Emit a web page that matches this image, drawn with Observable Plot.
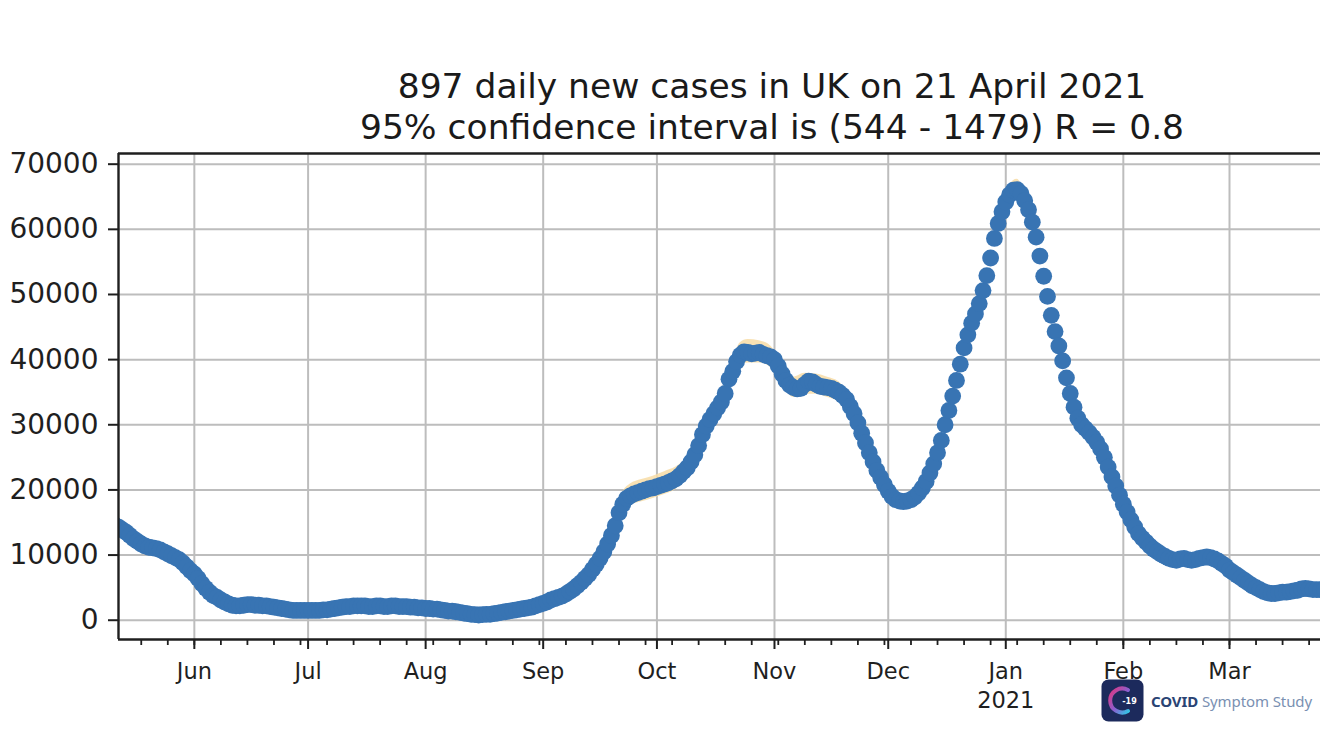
<!DOCTYPE html>
<html>
<head>
<meta charset="utf-8">
<script src="https://cdn.jsdelivr.net/npm/d3@7"></script>
<script src="https://cdn.jsdelivr.net/npm/@observablehq/plot@0.6"></script>
<style>
  html, body { margin: 0; padding: 0; background: #fff; overflow: hidden; }
  #wrap { position: relative; width: 1320px; height: 743px; overflow: hidden; }
  .title { position: absolute; left: 272px; width: 1000px; text-align: center;
           font-family: "DejaVu Sans", sans-serif; font-size: 34.5px; line-height: 41px; color: #1a1a1a; white-space: nowrap; }
  #chart { position: absolute; left: 0; top: 0; }
  #logo { position: absolute; left: 1101px; top: 679px; height: 43px; display: flex; align-items: center; z-index: 5; }
  #logo .txt { margin-left: 7px; font-family: "Noto Sans", "Open Sans", sans-serif; font-size: 15px; letter-spacing: -0.1px; }
  #logo .b { font-weight: 700; color: #2a4474; }
  #logo .l { color: #7a90b2; }
</style>
</head>
<body>
<div id="wrap">
  <div class="title" id="t1" style="top:66px"></div>
  <div class="title" id="t2" style="top:107px"></div>
  <div id="chart"></div>
  <div id="logo">
    <svg width="43" height="43" viewBox="0 0 43 43">
      <defs>
        <linearGradient id="cg" x1="0" y1="0" x2="1" y2="1">
          <stop offset="0" stop-color="#e0357e"/>
          <stop offset="0.55" stop-color="#8a5fd0"/>
          <stop offset="1" stop-color="#35c3e6"/>
        </linearGradient>
      </defs>
      <rect x="0.5" y="0.5" width="42" height="42" rx="7" fill="#1c2a5c"/>
      <path d="M 27 11 A 12 12 0 1 0 27 32" fill="none" stroke="url(#cg)" stroke-width="4" stroke-linecap="round"/>
      <text x="28.5" y="24.5" font-family="DejaVu Sans" font-size="8" font-weight="bold" fill="#ffffff" text-anchor="middle">-19</text>
    </svg>
    <div class="txt"><span class="b">COVID</span> <span class="l">Symptom Study</span></div>
  </div>
</div>
<script>
// ---------------- data ----------------
const titleLine1 = "897 daily new cases in UK on 21 April 2021";
const titleLine2 = "95% confidence interval is (544 - 1479) R = 0.8";

const firstDay = "2020-05-10";           // first daily estimate
const dailyCases = [
  // May 10 - 31, 2020
  14900, 14600, 14300, 13900, 13500, 13000, 12500, 12100, 11700, 11400, 11200,
  11100, 11000, 10800, 10500, 10200, 9900, 9600, 9300, 8800, 8200, 7600,
  // June
  7100, 6400, 5600, 4900, 4300, 3800, 3500, 3100, 2800, 2500,
  2300, 2200, 2200, 2300, 2400, 2400, 2300, 2300, 2200, 2200,
  2100, 2000, 1900, 1800, 1700, 1600, 1500, 1500, 1500, 1500,
  // July
  1500, 1500, 1500, 1500, 1600, 1600, 1700, 1800, 1900, 2000,
  2100, 2100, 2200, 2200, 2200, 2200, 2100, 2100, 2200, 2200,
  2100, 2100, 2200, 2200, 2100, 2100, 2100, 2000, 2000, 1900, 1900,
  // August
  1800, 1800, 1700, 1700, 1600, 1500, 1400, 1400, 1300, 1200,
  1100, 1000, 900, 850, 800, 850, 900, 900, 1000, 1100,
  1200, 1300, 1400, 1500, 1600, 1700, 1800, 1900, 2000, 2200, 2400,
  // September
  2600, 2800, 3100, 3300, 3500, 3700, 4000, 4400, 4800, 5300,
  5800, 6400, 7000, 7800, 8600, 9500, 10500, 11700, 13000, 14500,
  16500, 17800, 18700, 19100, 19400, 19600, 19800, 20000, 20200, 20300,
  // October
  20500, 20700, 20900, 21100, 21400, 21700, 22200, 22800, 23400, 24300,
  25400, 26800, 28500, 29800, 30800, 31700, 32600, 33500, 34800, 37000,
  38200, 39700, 40700, 41200, 41100, 40900, 41000, 41100, 40800, 40600, 40400,
  // November
  40000, 39000, 37800, 36800, 36100, 35700, 35500, 35600, 36200, 36700,
  36600, 36200, 35900, 35800, 35700, 35600, 35300, 35000, 34500, 33900,
  32800, 31700, 30300, 28700, 27200, 25700, 24300, 23000, 21900, 20800,
  // December
  19800, 19000, 18500, 18300, 18200, 18300, 18500, 18900, 19500, 20300,
  21300, 22600, 24000, 25700, 27600, 30000, 32200, 34400, 36800, 39300,
  41800, 43800, 45600, 47000, 48600, 50600, 52900, 55600, 58600, 60900, 62700,
  // January 2021
  64200, 65300, 66000, 66100, 65500, 64400, 63000, 61100, 58800, 55900,
  52800, 49700, 46800, 44300, 42100, 39800, 37200, 34800, 32700, 31000,
  30000, 29400, 28800, 28100, 27300, 26300, 25000, 23500, 22000, 20600, 19200,
  // February
  17800, 16600, 15400, 14300, 13300, 12600, 12000, 11400, 10900, 10500,
  10100, 9800, 9500, 9300, 9200, 9400, 9500, 9300, 9200, 9300,
  9500, 9600, 9700, 9600, 9400, 9100, 8700, 8300,
  // March 1 - 26
  7700, 7300, 6900, 6500, 6100, 5700, 5300, 5000, 4700, 4400,
  4200, 4100, 4100, 4200, 4300, 4300, 4400, 4500, 4600, 4800,
  4900, 4800, 4700, 4700, 4700, 4700
];

// 95% confidence band where it shows around the dots (sparse readings)
const ciSegment = ["a","a","a","a","a","a","a","a","a","a","a","a","a","a","a","a","a","a","a","a","a","a","a","a",
                   "b","b","b","b","b"];
const ciDates = ["2020-09-20","2020-09-22","2020-09-24","2020-09-27","2020-09-30","2020-10-03","2020-10-06",
                 "2020-10-09","2020-10-12","2020-10-15","2020-10-18","2020-10-21","2020-10-23","2020-10-25",
                 "2020-10-28","2020-10-31","2020-11-03","2020-11-06","2020-11-09","2020-11-12","2020-11-15",
                 "2020-11-18","2020-11-21","2020-11-23",
                 "2020-12-31","2021-01-02","2021-01-04","2021-01-06","2021-01-08"];
const ciLow  = [13500,16300,17600,18200,18700,19300,20100,22100,25400,29400,32100,36700,39100,39500,
                39500,38800,36300,34200,34700,34700,34200,33500,31400,29000,
                61300,63800,64600,63000,59800];
const ciHigh = [15700,19600,20900,21600,22100,22800,23500,25000,28500,32500,35200,40000,42600,43100,
                42900,42100,39400,37300,37900,37800,37300,36600,34300,31800,
                63900,66800,67700,65800,62600];

// axes
const xStart = "2020-05-12", xEnd = "2021-03-25";
const yMin = -2960, yMax = 71640;
const yTicks = [0, 10000, 20000, 30000, 40000, 50000, 60000, 70000];
const monthTickDates = ["2020-06-01","2020-07-01","2020-08-01","2020-09-01","2020-10-01","2020-11-01",
                        "2020-12-01","2021-01-01","2021-02-01","2021-03-01"];
const monthTickLabels = ["Jun","Jul","Aug","Sep","Oct","Nov","Dec","Jan\n2021","Feb","Mar"];

// ---------------- build ----------------
document.getElementById("t1").textContent = titleLine1;
document.getElementById("t2").textContent = titleLine2;

const d0 = new Date(firstDay + "T00:00:00Z");
const series = dailyCases.map((v, i) => ({ date: d3.utcDay.offset(d0, i), value: v }));
const band = ciDates.map((d, i) => ({ date: new Date(d + "T00:00:00Z"), lo: ciLow[i], hi: ciHigh[i], seg: ciSegment[i] }));
const x0 = new Date(xStart + "T00:00:00Z"), x1 = new Date(xEnd + "T00:00:00Z");
const months = monthTickDates.map(d => new Date(d + "T00:00:00Z"));
const labelOf = new Map(months.map((d, i) => [+d, monthTickLabels[i]]));
const mondays = d3.utcMonday.range(x0, x1);

const ink = "#1f1f1f";
const gridColor = "#bdbdbd";
const blue = "#3874b3";

const chart = Plot.plot({
  width: 1320,
  height: 743,
  marginLeft: 118,
  marginRight: 0,
  marginTop: 153,
  marginBottom: 104,
  style: { fontFamily: "DejaVu Sans", fontSize: "28px", color: ink, background: "transparent", overflow: "visible" },
  x: { type: "utc", domain: [x0, x1] },
  y: { domain: [yMin, yMax] },
  marks: [
    Plot.gridY(yTicks, { stroke: gridColor, strokeOpacity: 1, strokeWidth: 2 }),
    Plot.gridX(months, { stroke: gridColor, strokeOpacity: 1, strokeWidth: 2 }),
    Plot.areaY(band, { x: "date", y1: "lo", y2: "hi", z: "seg", fill: "#f7dca6", fillOpacity: 0.85, curve: "monotone-x", clip: true }),
    Plot.dot(series, { x: "date", y: "value", r: 8.4, fill: blue, stroke: "none", clip: true }),
    Plot.ruleX([x0], { stroke: ink, strokeWidth: 2.4 }),
    Plot.ruleY([yMin, yMax], { stroke: ink, strokeWidth: 2.4 }),
    Plot.axisY(yTicks, { anchor: "left", tickSize: 10, tickPadding: 10, fontSize: 28, strokeWidth: 2,
                         tickFormat: d3.format("d"), fill: ink }),
    Plot.axisX(mondays, { anchor: "bottom", tickSize: 6, tickFormat: () => "", strokeWidth: 1.8 }),
    Plot.axisX(months, { anchor: "bottom", tickSize: 10, tickPadding: 9, fontSize: 22.5, strokeWidth: 2,
                         lineHeight: 1.28, tickFormat: d => labelOf.get(+d), fill: ink })
  ]
});
document.getElementById("chart").appendChild(chart);
</script>
</body>
</html>
